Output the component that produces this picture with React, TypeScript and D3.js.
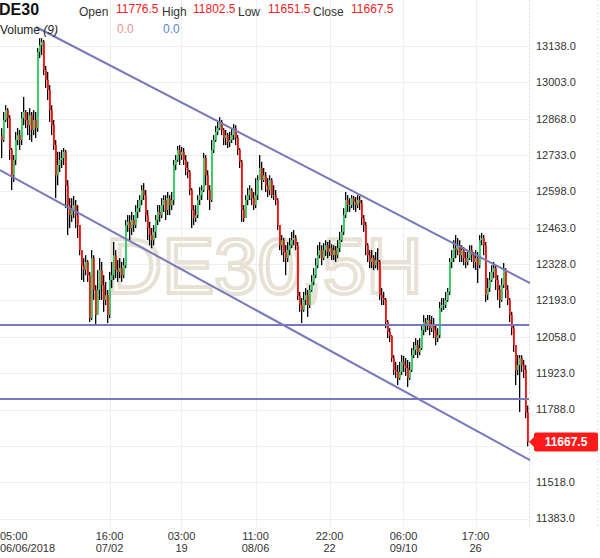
import React from 'react';
import * as d3 from 'd3';

const symbol = 'DE30';
const watermark = 'DE30,5H';
const firstOpen = 12807;

const closes = [
  12789, 12863, 12900, 12870, 12752, 12658, 12715, 12789, 12807, 12789,
  12870, 12893, 12863, 12844, 12881, 12826, 12863, 12833, 13116, 13141,
  13153, 13049, 13012, 12975, 12900, 12844, 12770, 12658, 12696, 12715,
  12722, 12745, 12621, 12547, 12510, 12529, 12547, 12510, 12473, 12380,
  12324, 12306, 12336, 12287, 12128, 12350, 12232, 12139, 12232, 12306,
  12250, 12195, 12213, 12139, 12269, 12287, 12361, 12306, 12299, 12313,
  12287, 12324, 12473, 12485, 12462, 12492, 12473, 12522, 12536, 12566,
  12603, 12584, 12510, 12462, 12436, 12417, 12448, 12492, 12522, 12510,
  12547, 12566, 12529, 12573, 12547, 12566, 12696, 12715, 12752, 12733,
  12745, 12715, 12685, 12670, 12603, 12529, 12499, 12510, 12566, 12584,
  12603, 12722, 12658, 12603, 12566, 12752, 12789, 12819, 12833, 12856,
  12826, 12796, 12807, 12782, 12789, 12807, 12833, 12796, 12752, 12708,
  12529, 12499, 12566, 12584, 12603, 12573, 12547, 12584, 12640, 12685,
  12640, 12658, 12621, 12603, 12640, 12584, 12584, 12566, 12473, 12398,
  12417, 12373, 12350, 12380, 12398, 12417, 12425, 12398, 12210, 12176,
  12158, 12195, 12213, 12176, 12232, 12262, 12287, 12324, 12361, 12380,
  12350, 12380, 12398, 12373, 12387, 12361, 12380, 12361, 12387, 12417,
  12448, 12510, 12566, 12547, 12547, 12573, 12559, 12547, 12566, 12555,
  12499, 12473, 12398, 12361, 12336, 12350, 12324, 12343, 12336, 12213,
  12202, 12195, 12113, 12076, 12061, 11979, 11935, 11928, 11905, 11928,
  11965, 11953, 11942, 11905, 11935, 11990, 12009, 12027, 12002, 12016,
  12083, 12113, 12101, 12120, 12090, 12101, 12083, 12053, 12064, 12165,
  12176, 12176, 12195, 12225, 12336, 12350, 12387, 12380, 12398, 12361,
  12380, 12350, 12336, 12350, 12380, 12361, 12336, 12350, 12324, 12417,
  12425, 12398, 12213, 12239, 12269, 12299, 12313, 12269, 12232, 12195,
  12250, 12306, 12232, 12195, 12139, 12090, 12027, 11935, 11953, 11979,
  11953, 11935, 11776.5, 11667.5,
];

const highs = [
  12833, 12893, 12918, 12907, 12881, 12759, 12733, 12819, 12833, 12826,
  12893, 12949, 12900, 12893, 12907, 12893, 12900, 12893, 13130, 13167,
  13167, 13160, 13064, 13042, 12993, 12918, 12863, 12789, 12745, 12745,
  12752, 12759, 12752, 12640, 12573, 12573, 12581, 12566, 12547, 12473,
  12380, 12350, 12361, 12343, 12299, 12380, 12361, 12250, 12306, 12350,
  12336, 12287, 12262, 12232, 12299, 12336, 12410, 12380, 12343, 12350,
  12336, 12350, 12492, 12510, 12510, 12522, 12510, 12547, 12566, 12584,
  12621, 12629, 12603, 12529, 12485, 12462, 12473, 12510, 12547, 12547,
  12573, 12584, 12584, 12596, 12584, 12596, 12715, 12733, 12767, 12770,
  12763, 12759, 12733, 12708, 12677, 12610, 12547, 12547, 12584, 12614,
  12621, 12741, 12733, 12677, 12621, 12789, 12807, 12841, 12856, 12874,
  12863, 12833, 12826, 12815, 12819, 12833, 12848, 12844, 12807, 12759,
  12715, 12547, 12584, 12610, 12621, 12610, 12596, 12647, 12658, 12733,
  12708, 12685, 12670, 12647, 12658, 12647, 12621, 12603, 12573, 12473,
  12436, 12425, 12398, 12410, 12425, 12448, 12455, 12436, 12410, 12225,
  12202, 12225, 12239, 12232, 12250, 12287, 12313, 12350, 12398, 12410,
  12398, 12406, 12417, 12410, 12417, 12402, 12398, 12395, 12417, 12448,
  12473, 12536, 12596, 12584, 12573, 12584, 12581, 12577, 12584, 12581,
  12566, 12510, 12485, 12406, 12380, 12380, 12361, 12373, 12387, 12343,
  12239, 12225, 12202, 12120, 12090, 12064, 11990, 11965, 11953, 11965,
  11990, 11987, 11979, 11972, 11965, 12016, 12039, 12053, 12046, 12053,
  12101, 12139, 12128, 12139, 12139, 12136, 12128, 12101, 12090, 12188,
  12202, 12202, 12225, 12239, 12350, 12380, 12417, 12436, 12425, 12417,
  12398, 12391, 12373, 12380, 12398, 12398, 12373, 12380, 12373, 12436,
  12444, 12436, 12410, 12276, 12299, 12324, 12336, 12324, 12287, 12250,
  12276, 12332, 12313, 12250, 12202, 12151, 12101, 12027, 11990, 11990,
  11990, 11972, 11953, 11802.5,
];

const lows = [
  12722, 12782, 12856, 12833, 12715, 12603, 12633, 12696, 12770, 12752,
  12770, 12844, 12833, 12807, 12789, 12782, 12807, 12796, 12819, 13093,
  13104, 13030, 12982, 12937, 12856, 12807, 12752, 12573, 12621, 12670,
  12685, 12696, 12536, 12436, 12462, 12485, 12499, 12462, 12425, 12361,
  12269, 12262, 12287, 12262, 12113, 12120, 12195, 12098, 12158, 12195,
  12195, 12151, 12176, 12109, 12128, 12239, 12269, 12276, 12262, 12276,
  12262, 12276, 12313, 12448, 12417, 12436, 12448, 12462, 12499, 12522,
  12547, 12566, 12485, 12417, 12398, 12387, 12398, 12425, 12473, 12485,
  12499, 12522, 12492, 12510, 12510, 12529, 12547, 12677, 12708, 12696,
  12715, 12696, 12658, 12647, 12584, 12462, 12473, 12485, 12499, 12547,
  12566, 12596, 12621, 12566, 12529, 12559, 12741, 12782, 12807, 12826,
  12807, 12770, 12770, 12759, 12763, 12778, 12789, 12770, 12733, 12685,
  12485, 12485, 12499, 12547, 12566, 12547, 12529, 12536, 12566, 12647,
  12603, 12633, 12596, 12577, 12584, 12573, 12566, 12547, 12455, 12380,
  12361, 12336, 12287, 12336, 12361, 12387, 12398, 12380, 12195, 12151,
  12109, 12151, 12176, 12132, 12165, 12225, 12250, 12276, 12313, 12350,
  12324, 12343, 12358, 12350, 12358, 12343, 12343, 12336, 12350, 12373,
  12410, 12436, 12499, 12522, 12522, 12536, 12529, 12522, 12536, 12529,
  12473, 12448, 12361, 12336, 12313, 12313, 12306, 12313, 12306, 12195,
  12176, 12176, 12090, 12053, 12039, 11965, 11916, 11905, 11879, 11898,
  11916, 11928, 11913, 11872, 11898, 11928, 11979, 11990, 11979, 11990,
  12009, 12064, 12076, 12083, 12064, 12076, 12053, 12027, 12039, 12053,
  12151, 12158, 12165, 12188, 12213, 12313, 12336, 12350, 12361, 12336,
  12336, 12324, 12313, 12324, 12343, 12336, 12313, 12306, 12258, 12313,
  12398, 12361, 12188, 12195, 12225, 12262, 12276, 12232, 12195, 12165,
  12188, 12239, 12202, 12176, 12113, 12064, 12002, 11879, 11916, 11779,
  11928, 11905, 11756, 11651.5,
];

const yTicks = [13138, 13003, 12868, 12733, 12598, 12463, 12328, 12193, 12058, 11923, 11788, 11653, 11518, 11383];
const xTickIndex = [0, 54, 90, 127, 164, 201, 237];
const xTickTime = ['05:00', '16:00', '03:00', '11:00', '22:00', '06:00', '17:00'];
const xTickDate = ['06/06/2018', '07/02', '19', '08/06', '22', '09/10', '26'];

const levels = [12102, 11827];
const trendStart = [[17.25, 13208.6], [-0.75, 12677.5]];
const trendEnd = [[264.25, 12257.8], [264.25, 11600.4]];

const FONT = '"Liberation Sans", Arial, Helvetica, sans-serif';
const GREEN = '#2fd064';
const RED = '#ff1010';
const LINE = '#7878bd';

export default function App() {
  const W = 600;
  const H = 558;
  const plotRight = 529;
  const plotBottom = 527;
  const n = closes.length;
  const x = d3.scaleLinear().domain([0, n - 1]).range([1.5, 527.5]);
  const y = d3.scaleLinear().domain([11383, 13138]).range([518.6, 46]);

  const opens = closes.map((c, i) => (i === 0 ? firstOpen : closes[i - 1]));
  const last = n - 1;
  const lastClose = closes[last];
  const yc = y(lastClose);
  const fmt = d3.format('.1f');

  return (
    <svg width={W} height={H} style={{ position: 'absolute', left: 0, top: 0, background: '#fff' }} fontFamily={FONT}>
      <rect x={0} y={0} width={W} height={H} fill="#fff" />
      {/* grid */}
      {yTicks.map((t) => (
        <line key={'hg' + t} x1={0} x2={plotRight} y1={Math.round(y(t)) + 0.5} y2={Math.round(y(t)) + 0.5} stroke="#efefef" strokeWidth={1} />
      ))}
      {xTickIndex.slice(1).map((t) => (
        <line key={'vg' + t} x1={Math.round(x(t)) + 0.5} x2={Math.round(x(t)) + 0.5} y1={0} y2={plotBottom} stroke="#efefef" strokeWidth={1} />
      ))}
      <line x1={plotRight + 0.5} x2={plotRight + 0.5} y1={0} y2={plotBottom} stroke="#dcdcdc" strokeDasharray="2,2" />
      <line x1={597.5} x2={597.5} y1={0} y2={plotBottom} stroke="#e6e6e6" strokeDasharray="2,2" />

      {/* watermark */}
      <text x={106} y={293} fontSize={78} fill="none" stroke="#e7e2d5" strokeWidth={4}>{watermark}</text>

      {/* candles: wicks first, then bodies on top */}
      {closes.map((c, i) => {
        const hi = y(highs[i]);
        const lo = y(lows[i]);
        return <rect key={'w' + i} x={x(i) - 0.5} y={hi} width={1.3} height={Math.max(1, lo - hi)} fill="#000" />;
      })}
      {closes.map((c, i) => {
        const o = opens[i];
        const top = Math.min(y(o), y(c));
        const bot = Math.max(y(o), y(c));
        return <rect key={'b' + i} x={x(i) - 0.5} y={top} width={1.8} height={Math.max(1, bot - top)} fill={c >= o ? GREEN : RED} />;
      })}

      {/* drawn lines */}
      {levels.map((lv) => (
        <line key={'lv' + lv} x1={0} x2={plotRight} y1={y(lv)} y2={y(lv)} stroke={LINE} strokeWidth={2} />
      ))}
      {trendStart.map((s, k) => (
        <line key={'tr' + k} x1={x(s[0])} y1={y(s[1])} x2={x(trendEnd[k][0])} y2={y(trendEnd[k][1])} stroke={LINE} strokeWidth={2} />
      ))}

      {/* header */}
      <text x={-1} y={15} fontSize={16} fontWeight="bold" fill="#111">{symbol}</text>
      <text x={79} y={15.5} fontSize={12} fill="#333">Open</text>
      <text x={116} y={12.5} fontSize={12} fill="#f21c1c">{fmt(opens[last])}</text>
      <text x={162} y={15.5} fontSize={12} fill="#333">High</text>
      <text x={193} y={12.5} fontSize={12} fill="#f21c1c">{fmt(highs[last])}</text>
      <text x={238} y={15.5} fontSize={12} fill="#333">Low</text>
      <text x={268} y={12.5} fontSize={12} fill="#f21c1c">{fmt(lows[last])}</text>
      <text x={313} y={15.5} fontSize={12} fill="#333">Close</text>
      <text x={351} y={12.5} fontSize={12} fill="#f21c1c">{fmt(closes[last])}</text>
      <text x={0} y={34} fontSize={12} fill="#222">Volume <tspan fontStyle="italic">(9)</tspan></text>
      <text x={117} y={33} fontSize={12} fill="#f29090">0.0</text>
      <text x={163} y={33} fontSize={12} fill="#5b86d9">0.0</text>

      {/* y axis labels */}
      {yTicks.filter((t) => Math.abs(y(t) - yc) > 12).map((t) => (
        <text key={'yl' + t} x={536} y={y(t)} dy="0.35em" fontSize={11} fill="#333">{fmt(t)}</text>
      ))}

      {/* price tag */}
      <path d={`M${plotRight},${yc} L${535},${yc - 6} L${535},${yc + 6} Z`} fill="#ff1a1a" />
      <rect x={534} y={yc - 9.5} width={64} height={19} rx={2} fill="#ff1a1a" />
      <text x={566} y={yc} dy="0.36em" textAnchor="middle" fontSize={12} fontWeight="bold" fill="#fff">{fmt(lastClose)}</text>

      {/* x axis labels */}
      {xTickIndex.map((t, k) => {
        const first = k === 0;
        const px = first ? 0 : x(t);
        const anchor = first ? 'start' : 'middle';
        return (
          <g key={'xl' + t}>
            <text x={px} y={540} fontSize={11} fill="#333" textAnchor={anchor}>{xTickTime[k]}</text>
            <text x={px} y={552} fontSize={11} fill="#333" textAnchor={anchor}>{xTickDate[k]}</text>
          </g>
        );
      })}
    </svg>
  );
}
